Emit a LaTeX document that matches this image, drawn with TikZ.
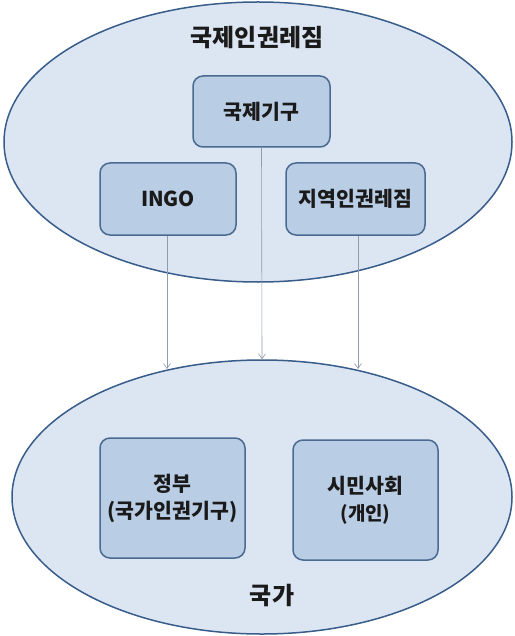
\documentclass[tikz,border=0pt]{standalone}
\usepackage{fontspec}
\setmainfont{Noto Sans CJK KR}
\usetikzlibrary{shapes.geometric,arrows.meta}
\definecolor{ellfill}{HTML}{DCE6F2}
\definecolor{ellline}{HTML}{385D8A}
\definecolor{boxfill}{HTML}{B9CDE5}
\definecolor{boxline}{HTML}{4A6A92}
\definecolor{arrline}{HTML}{8E9CAC}
\definecolor{txt}{HTML}{1A1A1A}
\tikzset{
  region/.style={ellipse, draw=ellline, fill=ellfill, line width=1.5pt, inner sep=0pt},
  unit/.style={draw=boxline, fill=boxfill, line width=1.5pt, rounded corners=10pt,
    inner sep=0pt, align=center, text=txt, font=\fontsize{20.5}{27}\selectfont\bfseries},
  title/.style={text=txt, font=\fontsize{24}{28}\selectfont\bfseries, inner sep=0pt},
  link/.style={draw=arrline, line width=0.6pt, -{Straight Barb[length=5pt,width=7pt]}}
}
\begin{document}
\begin{tikzpicture}[x=1pt,y=-1pt]
\useasboundingbox[fill=white] (0,0) rectangle (514,636);
% ellipses
\node[region, minimum width=508pt, minimum height=280pt] (top) at (258,142) {};
\node[region, minimum width=500pt, minimum height=274pt] (bot) at (262,497) {};
% titles
\node[title] (ttop) at (257,38) {국제인권레짐};
\node[title] (tbot) at (272,595) {국가};
% boxes of the top region
\node[unit, minimum width=137pt, minimum height=71pt] (kigu) at (261.5,111.5) {국제기구};
\node[unit, minimum width=136pt, minimum height=72pt] (ingo) at (168,199) {INGO};
\node[unit, minimum width=139pt, minimum height=72pt] (jiyeok) at (355.5,199) {지역인권레짐};
% boxes of the bottom region
\node[unit, minimum width=145pt, minimum height=120pt] (jeongbu) at (172.5,498)
  {정부\\(국가인권기구)};
\node[unit, minimum width=145pt, minimum height=120pt] (simin) at (365.5,500)
  {시민사회\\{\fontsize{19}{25}\selectfont (개인)}};
% arrow ends on the border of the bottom region
\coordinate (e1) at (167,369);
\coordinate (e3) at (358,369);
% connectors
\draw[link] (ingo.south -| e1) -- (e1);
\draw[link] (kigu.south) -- (bot.north);
\draw[link] (jiyeok.south -| e3) -- (e3);
\end{tikzpicture}
\end{document}
